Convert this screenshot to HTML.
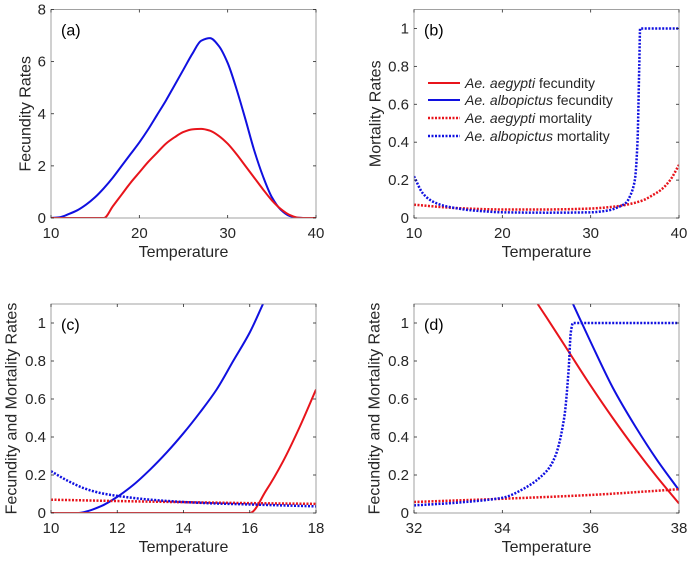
<!DOCTYPE html>
<html><head><meta charset="utf-8"><style>
body{margin:0;background:#fff}
svg{font-family:"Liberation Sans",Arial,sans-serif}
</style></head><body>
<svg id="c" width="690" height="560" xmlns="http://www.w3.org/2000/svg"></svg>
<script>
// Panel (a) fecundity, T = 10..40
const tempA = [10,11,12,13,14,15,16,17,18,19,20,21,22,23,24,25,26,27,28,29,30,31,32,33,34,35,36,37,38,39,40];
const albFecA = [0,0.03,0.15,0.3,0.52,0.8,1.15,1.55,2.0,2.45,2.9,3.4,3.95,4.5,5.1,5.7,6.3,6.8,6.9,6.6,5.95,4.95,3.8,2.6,1.6,0.8,0.32,0.08,0.01,0,0];
const aegFecA = [0,0,0,0,0,0,0,0.45,0.9,1.35,1.75,2.15,2.5,2.85,3.1,3.3,3.4,3.42,3.35,3.15,2.85,2.45,2.0,1.55,1.1,0.68,0.35,0.12,0.01,0,0];
// Panel (b) mortality
const tempBAlb = [10,11,12,13,14,15,16,18,20,25,30,32,33,34,34.5,35,35.3,35.5,35.6,40];
const albMortB = [0.22,0.13,0.09,0.07,0.058,0.05,0.043,0.035,0.03,0.028,0.03,0.04,0.055,0.08,0.12,0.2,0.4,0.8,1,1];
const tempBAeg = [10,15,20,25,30,33,35,36,37,38,39,40];
const aegMortB = [0.07,0.052,0.045,0.045,0.05,0.062,0.08,0.095,0.12,0.15,0.2,0.28];
// Panel (c) zoom 10..18
const tempCAlbF = [10,10.8,11,11.5,12,12.5,13,13.5,14,14.5,15,15.5,16,16.4];
const albFecC = [0,0,0.005,0.035,0.085,0.15,0.23,0.32,0.42,0.53,0.65,0.8,0.95,1.1];
const tempCAegF = [10,16,16.5,17,17.5,18];
const aegFecC = [0,0,0.12,0.27,0.45,0.65];
const tempCAlbM = [10,10.5,11,11.5,12,13,14,15,16,17,18];
const albMortC = [0.22,0.17,0.13,0.105,0.09,0.07,0.058,0.05,0.045,0.04,0.035];
const tempCAegM = [10,12,14,16,18];
const aegMortC = [0.07,0.063,0.057,0.052,0.048];
// Panel (d) zoom 32..38
const tempDAegF = [34.8,35,35.5,36,36.5,37,37.5,38];
const aegFecD = [1.1,1.03,0.85,0.67,0.5,0.34,0.19,0.05];
const tempDAlbF = [35.6,36,36.5,37,37.5,38];
const albFecD = [1.1,0.9,0.66,0.46,0.28,0.12];
const tempDAlbM = [32,33,34,34.5,35,35.2,35.4,35.5,35.55,35.6,38];
const albMortD = [0.04,0.055,0.08,0.13,0.22,0.3,0.5,0.75,0.95,1,1];
const tempDAegM = [32,34,36,38];
const aegMortD = [0.058,0.075,0.095,0.125];

const xTicksA=[10,20,30,40], yTicksA=[0,2,4,6,8];
const xTicksB=[10,20,30,40], yTicksB=[0,0.2,0.4,0.6,0.8,1];
const xTicksC=[10,12,14,16,18];
const xTicksD=[32,34,36,38];

const svg=document.getElementById('c');
const NS='http://www.w3.org/2000/svg';
function mk(tag,attrs,parent){const e=document.createElementNS(NS,tag);for(const k in attrs)e.setAttribute(k,attrs[k]);(parent||svg).appendChild(e);return e;}

// monotone cubic path through pixel points
function smoothPath(px,py){
  const n=px.length; if(n<3){return px.map((v,i)=>(i?'L':'M')+v.toFixed(2)+','+py[i].toFixed(2)).join('');}
  const d=[],m=new Array(n);
  for(let i=0;i<n-1;i++)d.push((py[i+1]-py[i])/(px[i+1]-px[i]||1e-6));
  m[0]=d[0];m[n-1]=d[n-2];
  for(let i=1;i<n-1;i++){ if(d[i-1]*d[i]<=0)m[i]=0; else m[i]=2/(1/d[i-1]+1/d[i]); }
  let s='M'+px[0].toFixed(2)+','+py[0].toFixed(2);
  for(let i=0;i<n-1;i++){const h=(px[i+1]-px[i])/3;
    s+='C'+(px[i]+h).toFixed(2)+','+(py[i]+m[i]*h).toFixed(2)+' '+(px[i+1]-h).toFixed(2)+','+(py[i+1]-m[i+1]*h).toFixed(2)+' '+px[i+1].toFixed(2)+','+py[i+1].toFixed(2);}
  return s;
}

function panel(name,L,T,R,B,xmin,xmax,ymin,ymax,xt,yt,ylabel,yoff,tag,series){
  const g=mk('g',{});
  
  
  const sx=v=>L+(v-xmin)/(xmax-xmin)*(R-L);
  const sy=v=>B-(v-ymin)/(ymax-ymin)*(B-T);
  const cp=name+'-clip';
  const cl=mk('clipPath',{id:cp},g);mk('rect',{x:L,y:T,width:R-L,height:B-T},cl);
  series.forEach(s=>{
    const d=smoothPath(s.x.map(sx),s.y.map(sy));
    const p=mk('path',{d:d,fill:'none',stroke:s.c,'stroke-width':2,'clip-path':'url(#'+cp+')'},g);
    if(s.dot){p.setAttribute('stroke-dasharray','2 1.5');p.setAttribute('stroke-width',2.5);}
    
    
  });
  mk('rect',{x:L,y:T,width:R-L,height:B-T,fill:'none',stroke:'#8a8a8a','stroke-width':0.8},g);
  const xa=mk('g',{},g);
  
  
  xt.forEach(v=>{const x=sx(v);
    mk('line',{x1:x,x2:x,y1:B,y2:B-3,stroke:'#262626','stroke-width':0.8},xa);
    mk('line',{x1:x,x2:x,y1:T,y2:T+3,stroke:'#262626','stroke-width':0.8},xa);
    const t=mk('text',{x:x,y:B+20,'text-anchor':'middle','font-size':15,fill:'#262626'},xa);t.textContent=v;});
  const ya=mk('g',{},g);
  
  
  yt.forEach(v=>{const y=sy(v);
    mk('line',{x1:L,x2:L+3,y1:y,y2:y,stroke:'#262626','stroke-width':0.8},ya);
    mk('line',{x1:R,x2:R-3,y1:y,y2:y,stroke:'#262626','stroke-width':0.8},ya);
    const t=mk('text',{x:L-5,y:y+5,'text-anchor':'end','font-size':15,fill:'#262626'},ya);t.textContent=v;});
  const xl=mk('text',{x:(L+R)/2,y:B+39,'text-anchor':'middle','font-size':16,fill:'#262626'},g);xl.textContent='Temperature';
  
  
  const ylx=L-yoff, cy=(T+B)/2;
  const yl=mk('text',{x:ylx,y:cy,'text-anchor':'middle','dominant-baseline':'central','font-size':16,fill:'#262626',transform:'rotate(-90 '+ylx+' '+cy+')'},g);yl.textContent=ylabel;
  
  
  const tg=mk('text',{x:L+10,y:T+26,'font-size':16,fill:'#000'},g);tg.textContent=tag;
  
  
}
const R='#e8141b',Bl='#1010e0';
panel('panel-a',51,9.5,316,218,10,40,0,8,xTicksA,yTicksA,'Fecundity Rates',25,'(a)',[
 {x:tempA,y:albFecA,c:Bl,n:'albopictus-fecundity-line'},
 {x:tempA,y:aegFecA,c:R,n:'aegypti-fecundity-line'}]);
panel('panel-b',414,9.5,679,218,10,40,0,1.1,xTicksB,yTicksB,'Mortality Rates',38,'(b)',[
 {x:tempBAeg,y:aegMortB,c:R,dot:1,n:'aegypti-mortality-line'},
 {x:tempBAlb,y:albMortB,c:Bl,dot:1,n:'albopictus-mortality-line'}]);
panel('panel-c',51,304,316,513,10,18,0,1.1,xTicksC,yTicksB,'Fecundity and Mortality Rates',39,'(c)',[
 {x:tempCAlbF,y:albFecC,c:Bl,n:'albopictus-fecundity-line'},
 {x:tempCAegF,y:aegFecC,c:R,n:'aegypti-fecundity-line'},
 {x:tempCAegM,y:aegMortC,c:R,dot:1,n:'aegypti-mortality-line'},
 {x:tempCAlbM,y:albMortC,c:Bl,dot:1,n:'albopictus-mortality-line'}]);
panel('panel-d',414,304,679,513,32,38,0,1.1,xTicksD,yTicksB,'Fecundity and Mortality Rates',39,'(d)',[
 {x:tempDAegF,y:aegFecD,c:R,n:'aegypti-fecundity-line'},
 {x:tempDAlbF,y:albFecD,c:Bl,n:'albopictus-fecundity-line'},
 {x:tempDAegM,y:aegMortD,c:R,dot:1,n:'aegypti-mortality-line'},
 {x:tempDAlbM,y:albMortD,c:Bl,dot:1,n:'albopictus-mortality-line'}]);

// legend
const lg=mk('g',{});


const legItems=[['Ae. aegypti',' fecundity',R,0],['Ae. albopictus',' fecundity',Bl,0],['Ae. aegypti',' mortality',R,1],['Ae. albopictus',' mortality',Bl,1]];
const legY=[83,100,118,136];
legItems.forEach((it,i)=>{
  const y=legY[i];
  const ln=mk('line',{x1:428,x2:460,y1:y,y2:y,stroke:it[2],'stroke-width':it[3]?2.5:2},lg);
  if(it[3])ln.setAttribute('stroke-dasharray','2 1.5');
  const t=mk('text',{x:465,y:y+5,'font-size':14,fill:'#262626'},lg);
  
  
  const a=mk('tspan',{'font-style':'italic'},t);a.textContent=it[0];
  const b=mk('tspan',{},t);b.textContent=it[1];
});
</script>
</body></html>
